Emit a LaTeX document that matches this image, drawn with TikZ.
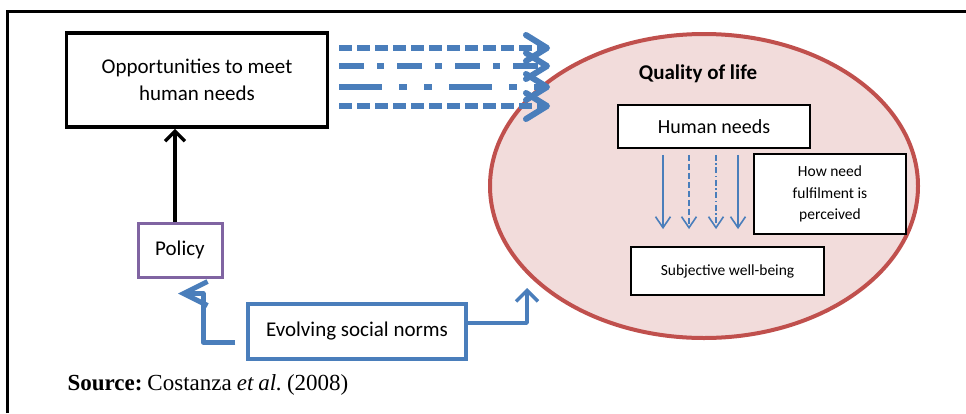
\documentclass[tikz,border=0pt]{standalone}
\usepackage{fontspec}
\setmainfont{Carlito}
\newfontfamily\srcfont{Liberation Serif}
\usetikzlibrary{arrows.meta,calc,shapes.geometric}

\definecolor{normblue}{HTML}{4A7EBB}
\definecolor{qolfill}{HTML}{F2DCDB}
\definecolor{qolred}{HTML}{C0504D}
\definecolor{polpurple}{HTML}{8064A2}

\begin{document}
\begin{tikzpicture}[x=1pt, y=-1pt,
  box/.style={draw, fill=white, line width=1.8pt, align=center, inner sep=0pt},
  bigtext/.style={font=\fontsize{21}{27}\selectfont},
  smalltext/.style={font=\fontsize{15.5}{21.5}\selectfont},
  fatarrow/.style={draw=normblue, line width=6pt, line cap=butt,
    -{Straight Barb[length=21pt, width=26pt, line cap=round, line join=round]}},
  thinarrow/.style={draw=normblue, line width=1.6pt,
    -{Straight Barb[length=11pt, width=15pt]}}]

\useasboundingbox (0,0) rectangle (966,413);

% frame
\draw[line width=3pt] (7.5,413) -- (7.5,11) -- (966,11);

% quality of life
\node[ellipse, draw=qolred, fill=qolfill, line width=4pt,
  minimum width=428pt, minimum height=304pt] (qol) at (704,186) {};
\node[font=\bfseries\fontsize{21}{24}\selectfont] (qoltitle) at (698,74) {Quality of life};

\node[box, font=\fontsize{20}{24}\selectfont, minimum width=192pt, minimum height=43pt] (needs) at (714,126.5) {Human needs};
\node[box, smalltext, minimum width=152pt, minimum height=80pt] (percv) at (830,194)
  {How need\\fulfilment is\\perceived};
\node[box, smalltext, minimum width=193pt, minimum height=48pt] (swb) at (727.5,271)
  {Subjective well-being};

% needs -> well-being
\draw[thinarrow] ($(needs.south)+(-51,6)$) -- ($(swb.north)+(-64.5,-17)$);
\draw[thinarrow, dash pattern=on 6pt off 3pt] ($(needs.south)+(-25,6)$) -- ($(swb.north)+(-38.5,-17)$);
\draw[thinarrow, dash pattern=on 6pt off 2.5pt on 1.5pt off 2.5pt] ($(needs.south)+(2,6)$) -- ($(swb.north)+(-11.5,-17)$);
\draw[thinarrow] ($(needs.south)+(24,6)$) -- ($(swb.north)+(10.5,-17)$);

% left side
\node[box, bigtext, line width=3.5pt, minimum width=261pt, minimum height=94pt] (opp) at (197,80)
  {Opportunities to meet\\human needs};
\node[box, bigtext, draw=polpurple, line width=3pt, minimum width=84pt, minimum height=54pt] (pol) at (180,250) {Policy};
\node[box, bigtext, draw=normblue, line width=3.5pt, minimum width=218pt, minimum height=55pt] (norms) at (357,331.5)
  {Evolving social norms};

\coordinate (polTop) at ($(pol.north)+(-5,0)$);
\draw[line width=3.5pt, -{Straight Barb[length=10pt, width=20pt]}] (polTop) -- (polTop |- opp.south);

% opportunities -> quality of life
\coordinate (oppA) at ($(opp.east)+(10,-32)$);
\coordinate (qolA) at (550,48);
\draw[fatarrow, dash pattern=on 13pt off 5pt] (oppA) -- (qolA);
\draw[fatarrow, dash pattern=on 25pt off 13pt on 7pt off 13pt] (oppA |- 0,66) -- (qolA |- 0,66);
\draw[fatarrow, dash pattern=on 43pt off 17pt on 8pt off 17pt on 8pt off 17pt] (oppA |- 0,87) -- (qolA |- 0,87);
\draw[fatarrow, dash pattern=on 13pt off 5pt] (oppA |- 0,106) -- (qolA |- 0,106);

% norms feed back
\coordinate (normsL) at ($(norms.west)+(-11,10.5)$);
\coordinate (polIn) at ($(pol.south)+(-2,15)$);
\coordinate (qolIn) at (527,288);
\draw[draw=normblue, line width=5pt, line join=round,
  -{Straight Barb[length=24pt, width=24pt]}] (normsL) -| ($(polIn)+(25,0)$) -- (polIn);
\draw[draw=normblue, line width=3.5pt, line join=round,
  -{Straight Barb[length=11pt, width=22pt]}] ($(norms.east)+(0,-8.5)$) -| (qolIn);

% source
\node[anchor=west, font=\srcfont\fontsize{23}{26}\selectfont] (src) at (64,385)
  {\frenchspacing\spaceskip=5pt\textbf{Source:} Costanza \textit{et al.} (2008)};

\end{tikzpicture}
\end{document}
